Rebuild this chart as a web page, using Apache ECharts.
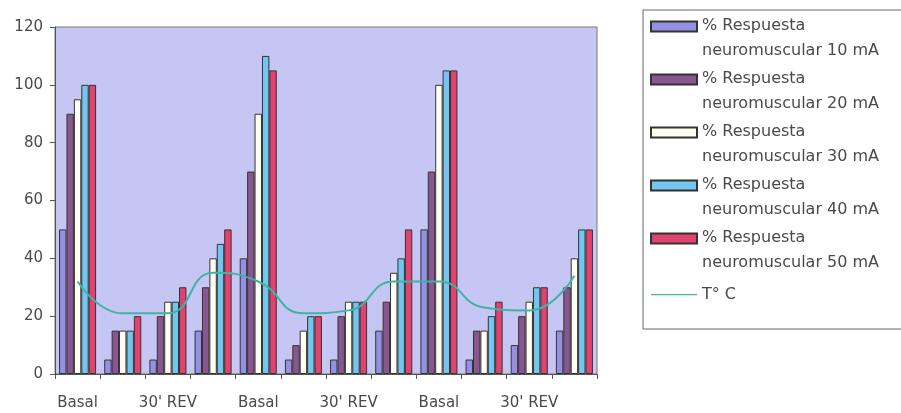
<!DOCTYPE html>
<html>
<head>
<meta charset="utf-8">
<script src="https://cdn.jsdelivr.net/npm/echarts@6/dist/echarts.min.js"></script>
<style>
html,body{margin:0;padding:0;background:#fff;}
#chart{width:901px;height:413px;}
</style>
</head>
<body>
<div id="chart"></div>
<script>
var categories = ["Basal", "15' REV", "30' REV", "45' REV", "Basal", "15' REV", "30' REV", "45' REV", "Basal", "15' REV", "30' REV", "45' REV"];
var seriesNames = [
  "% Respuesta neuromuscular 10 mA",
  "% Respuesta neuromuscular 20 mA",
  "% Respuesta neuromuscular 30 mA",
  "% Respuesta neuromuscular 40 mA",
  "% Respuesta neuromuscular 50 mA"
];
var resp10 = [50, 5, 5, 15, 40, 5, 5, 15, 50, 5, 10, 15];
var resp20 = [90, 15, 20, 30, 70, 10, 20, 25, 70, 15, 20, 30];
var resp30 = [95, 15, 25, 40, 90, 15, 25, 35, 100, 15, 25, 40];
var resp40 = [100, 15, 25, 45, 110, 20, 25, 40, 105, 20, 30, 50];
var resp50 = [100, 20, 30, 50, 105, 20, 25, 50, 105, 25, 30, 50];
var tempName = "T\u00b0 C";
var temperature = [32, 21, 21, 35, 32, 21, 22, 32, 32, 23, 22, 34];

var barValues = [resp10, resp20, resp30, resp40, resp50];
var barColors = ["#9490e4", "#8a5690", "#fffff2", "#74c6ee", "#e2426f"];
var lineColor = "#3fb4a6";
var font = "DejaVu Sans";
var swatch = "path://M0,0 L46,0 L46,10 L0,10 Z M0,33 L0.01,33";
var lineIcon = "path://M0,16 L46,16 L46,17.2 L0,17.2 Z M0,0 L0.01,0 M0,33 L0.01,33";

var series = barValues.map(function (vals, i) {
  return {
    name: seriesNames[i],
    type: "bar",
    data: vals,
    barGap: "0%",
    barCategoryGap: "18%",
    itemStyle: { color: barColors[i], borderColor: "#333", borderWidth: 1 },
    emphasis: { disabled: true }
  };
});
series.push({
  name: tempName,
  type: "line",
  data: temperature,
  smooth: true,
  symbol: "none",
  lineStyle: { color: lineColor, width: 2 },
  itemStyle: { color: lineColor },
  z: 5
});

var legendData = seriesNames.map(function (n) { return { name: n, icon: swatch }; });
legendData.push({ name: tempName, icon: lineIcon, itemStyle: { color: lineColor, borderWidth: 0 } });

var chart = echarts.init(document.getElementById("chart"), null, { renderer: "canvas" });
chart.setOption({
  animation: false,
  backgroundColor: "#ffffff",
  grid: {
    left: 55, right: 304, top: 27, bottom: 39,
    show: true, backgroundColor: "#c6c6f4", borderColor: "#777", borderWidth: 1
  },
  legend: {
    orient: "vertical",
    left: 643, top: 10,
    padding: [3, 70, 18, 7],
    itemWidth: 46, itemHeight: 33, itemGap: 3,
    backgroundColor: "#ffffff",
    borderColor: "#666", borderWidth: 1, borderRadius: 0,
    data: legendData,
    formatter: function (n) { return n.replace(" neuromuscular", "\nneuromuscular"); },
    textStyle: { fontFamily: font, fontSize: 16, color: "#4a4a4a", lineHeight: 25 },
    selectedMode: false
  },
  xAxis: {
    type: "category",
    data: categories,
    boundaryGap: true,
    axisLine: { lineStyle: { color: "#555", width: 1 } },
    axisTick: { show: true, interval: 0, length: 5, lineStyle: { color: "#555" } },
    axisLabel: { interval: 1, margin: 22, fontFamily: font, fontSize: 15, color: "#4a4a4a" },
    splitLine: { show: false }
  },
  yAxis: {
    type: "value",
    min: 0, max: 120, interval: 20,
    axisLine: { show: true, lineStyle: { color: "#555", width: 1 } },
    axisTick: { show: true, length: 5, lineStyle: { color: "#555" } },
    axisLabel: { margin: 12, fontFamily: font, fontSize: 15, color: "#4a4a4a" },
    splitLine: { show: false }
  },
  series: series
});
</script>
</body>
</html>
